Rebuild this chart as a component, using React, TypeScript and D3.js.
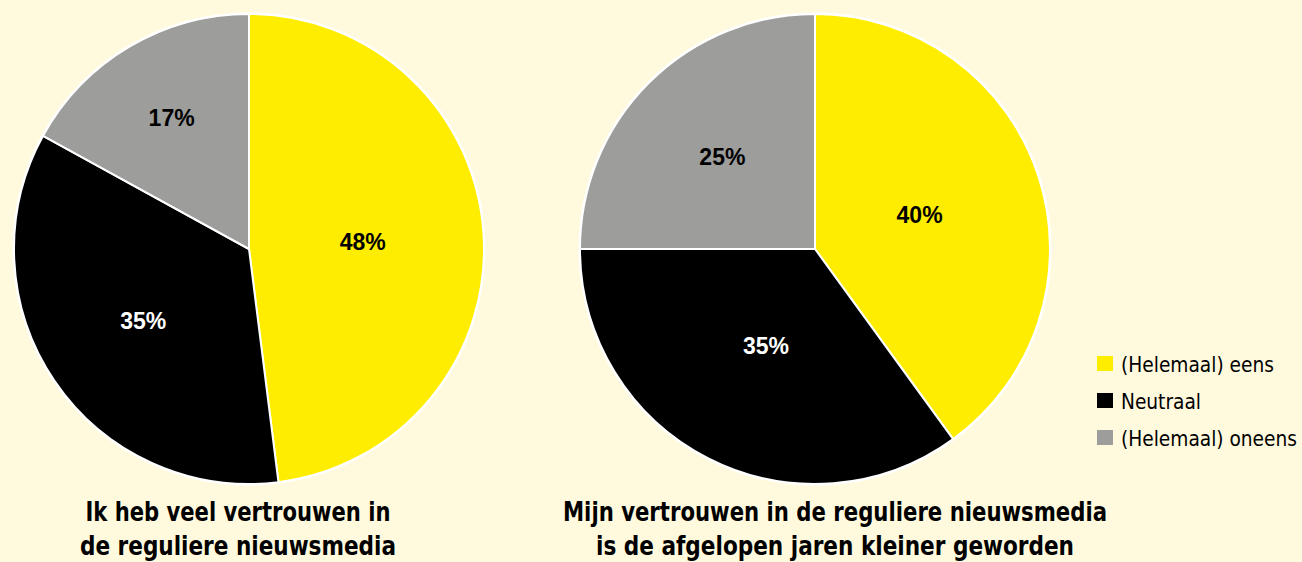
import React, { useEffect, useRef } from "react";
import * as d3 from "d3";

const categories = ["(Helemaal) eens", "Neutraal", "(Helemaal) oneens"];
const legendWidths = [153, 80, 176];
const colors = ["#ffed00", "#000000", "#9d9d9c"];
const labelColors = ["#000000", "#ffffff", "#000000"];
const pie1Values = [48, 35, 17];
const pie2Values = [40, 35, 25];
const pie1Title = ["Ik heb veel vertrouwen in", "de reguliere nieuwsmedia"];
const pie2Title = ["Mijn vertrouwen in de reguliere nieuwsmedia", "is de afgelopen jaren kleiner geworden"];

const W = 1302;
const H = 562;
const R = 235;
const narrow = "'Liberation Sans Narrow', 'DejaVu Sans Condensed', 'Liberation Sans', sans-serif";
const sans = "'Liberation Sans', Arial, sans-serif";

function Pie({ cx, cy, values, title, titleCx, titleWidths, labelR }: any) {
  const pie = d3.pie<number>().sort(null).value((d) => d)(values);
  const arc = d3.arc<d3.PieArcDatum<number>>().innerRadius(0).outerRadius(R);
  return (
    <g>
      <g transform={`translate(${cx},${cy})`}>
        <circle r={R + 1.5} fill="#ffffff" />
        {pie.map((p, i) => (
          <path key={i} d={arc(p) || ""} fill={colors[i]} stroke="#ffffff" strokeWidth={2} />
        ))}
        {pie.map((p, i) => {
          const [x, y] = d3.arc<d3.PieArcDatum<number>>().innerRadius(labelR[i]).outerRadius(labelR[i]).centroid(p);
          return (
            <text key={"l" + i} x={x} y={y} dy="0.36em" textAnchor="middle" fontFamily={sans} fontWeight="bold" fontSize={23} fill={labelColors[i]}>
              {values[i]}%
            </text>
          );
        })}
      </g>
      {title.map((t: string, i: number) => (
        <text key={"t" + i} x={titleCx} y={521 + i * 34} textAnchor="middle" fontFamily={narrow} fontWeight="bold" fontSize={27} fill="#000" textLength={titleWidths[i]} lengthAdjust="spacingAndGlyphs">
          {t}
        </text>
      ))}
    </g>
  );
}

export default function App() {
  const legendRef = useRef<SVGGElement>(null);
  useEffect(() => {
    if (!legendRef.current) return;
    d3.select(legendRef.current)
      .selectAll<SVGTextElement, unknown>("text.fit")
      .each(function (_d, i) {
        const natural = this.getComputedTextLength();
        const s = natural > 0 ? legendWidths[i] / natural : 1;
        d3.select(this).attr("transform", `translate(24,0) scale(${s},1)`);
      });
  }, []);
  return (
    <svg width={W} height={H} style={{ position: "absolute", left: 0, top: 0, display: "block" }}>
      <rect width={W} height={H} fill="#fffade" />
      <Pie cx={249} cy={249} values={pie1Values} title={pie1Title} titleCx={238} titleWidths={[305, 316]} labelR={[114, 128, 152]} />
      <Pie cx={815} cy={249} values={pie2Values} title={pie2Title} titleCx={835} titleWidths={[544, 478]} labelR={[110, 108, 131]} />
      <g ref={legendRef}>
        {categories.map((c, i) => (
          <g key={c} transform={`translate(1097,${364 + i * 37})`}>
            <rect x={0} y={-8} width={16} height={15} fill={colors[i]} />
            <text className="fit" transform="translate(24,0) scale(0.8,1)" x={0} y={0} dy="0.36em" fontFamily={narrow} fontSize={22} fill="#000">
              {c}
            </text>
          </g>
        ))}
      </g>
    </svg>
  );
}
